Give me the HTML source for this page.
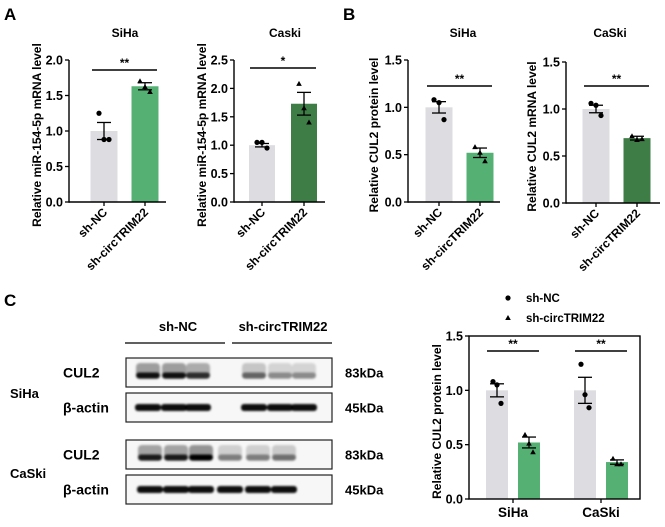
<!DOCTYPE html>
<html><head><meta charset="utf-8"><style>
body{margin:0;background:#fff}
svg{display:block;font-family:"Liberation Sans",sans-serif;font-weight:bold}
</style></head><body>
<svg id="fig" width="665" height="527" viewBox="0 0 665 527">
<defs><filter id="blur" x="-20%" y="-50%" width="140%" height="200%"><feGaussianBlur stdDeviation="1.1"/></filter></defs>
<text x="4" y="20" font-size="17">A</text>
<text x="343" y="20" font-size="17">B</text>
<text x="4" y="306" font-size="17">C</text>
<g id="blot">
<text x="178" y="331" font-size="13" text-anchor="middle">sh-NC</text>
<text x="283" y="331" font-size="13" text-anchor="middle">sh-circTRIM22</text>
<line x1="125" y1="343" x2="225" y2="343" stroke="#000" stroke-width="1.3"/>
<line x1="232" y1="343" x2="332" y2="343" stroke="#000" stroke-width="1.3"/>
<text x="10" y="398" font-size="13">SiHa</text>
<text x="10" y="478" font-size="13">CaSki</text>
</g>
</svg>
<script>
const NS="http://www.w3.org/2000/svg";
const svg=document.getElementById('fig');
function el(tag,attrs,parent){const e=document.createElementNS(NS,tag);for(const k in attrs)e.setAttribute(k,attrs[k]);(parent||svg).appendChild(e);return e;}

const groups=["sh-NC","sh-circTRIM22"];
const aSihaMeans=[1.0,1.63], aSihaSem=[0.12,0.05];
const aSihaPts=[[1.25,0.88,0.88],[1.7,1.62,1.55]];
const aCaskiMeans=[1.0,1.73], aCaskiSem=[0.03,0.2];
const aCaskiPts=[[1.05,1.05,0.95],[2.08,1.65,1.4]];
const bSihaMeans=[1.0,0.52], bSihaSem=[0.06,0.05];
const bSihaPts=[[1.08,1.05,0.87],[0.58,0.52,0.43]];
const bCaskiMeans=[1.0,0.69], bCaskiSem=[0.04,0.02];
const bCaskiPts=[[1.06,1.04,0.93],[0.71,0.67,0.68]];
const cCells=["SiHa","CaSki"];
const cNcMeans=[1.0,1.0], cNcSem=[0.06,0.12];
const cKdMeans=[0.52,0.34], cKdSem=[0.05,0.02];
const cNcPts=[[1.08,1.05,0.88],[1.24,0.96,0.84]];
const cKdPts=[[0.59,0.51,0.43],[0.37,0.32,0.32]];
const yTicksA1=[0,0.5,1.0,1.5,2.0], yTicksA2=[0,0.5,1.0,1.5,2.0,2.5], yTicks15=[0,0.5,1.0,1.5];

const GREY="#dcdce1";

function marker(g,x,y,tri){
  if(tri){const m=el('path',{d:`M${x},${y-3}L${x+2.8},${y+2}L${x-2.8},${y+2}Z`,fill:'#000'},g);}
  else{const m=el('circle',{cx:x,cy:y,r:2.6,fill:'#000'},g);}
}
function errbar(g,x,ym,yl,yh){
  el('line',{x1:x,x2:x,y1:yl,y2:yh,stroke:'#000','stroke-width':1.3},g);
  el('line',{x1:x-7,x2:x+7,y1:yl,y2:yl,stroke:'#000','stroke-width':1.3},g);
  el('line',{x1:x-7,x2:x+7,y1:yh,y2:yh,stroke:'#000','stroke-width':1.3},g);
}

function panel(o){
  const g=el('g',{});
  
  
  const y=v=>o.y0-(v/o.ymax)*(o.y0-o.ytop);
  const t=el('text',{x:o.tx,y:37,'font-size':12,'text-anchor':'middle'},g);t.textContent=o.title;
  
  o.means.forEach((m,i)=>{
    const cx=o.cx[i];
    const b=el('rect',{x:cx-o.bw/2,y:y(m),width:o.bw,height:o.y0-y(m),fill:o.colors[i]},g);
    
    o.pts[i].forEach((p,k)=>marker(g,cx+(k-1)*5,y(p),i==1));
    errbar(g,cx,y(m),y(m-o.sem[i]),y(m+o.sem[i]));
  });
  el('line',{x1:o.ax,x2:o.ax,y1:o.ytop,y2:o.y0+0.7,stroke:'#000','stroke-width':1.4},g);
  el('line',{x1:o.ax,x2:o.xend,y1:o.y0,y2:o.y0,stroke:'#000','stroke-width':1.4},g);
  o.ticks.forEach(v=>{
    el('line',{x1:o.ax-4,x2:o.ax,y1:y(v),y2:y(v),stroke:'#000','stroke-width':1.3},g);
    const tl=el('text',{x:o.ax-6,y:y(v)+4.5,'font-size':12.5,'text-anchor':'end'},g);tl.textContent=v.toFixed(1);
    
  });
  groups.forEach((gr,i)=>{
    const cx=o.cx[i];
    el('line',{x1:cx,x2:cx,y1:o.y0,y2:o.y0+4,stroke:'#000','stroke-width':1.3},g);
    const tl=el('text',{x:cx+4,y:o.y0+11,'font-size':12,'text-anchor':'end',transform:`rotate(-45 ${cx+4} ${o.y0+11})`},g);tl.textContent=gr;
    
  });
  const yl=el('text',{x:0,y:0,'font-size':12,'text-anchor':'middle',transform:`translate(${o.lx},${(o.ytop+o.y0)/2+4}) rotate(-90)`},g);yl.textContent=o.ylabel;
  
  el('line',{x1:o.cx[0]-12,x2:o.cx[1]+12,y1:o.sigY,y2:o.sigY,stroke:'#000','stroke-width':1.4},g);
  const s=el('text',{x:(o.cx[0]+o.cx[1])/2,y:o.sigY-3,'font-size':12,'text-anchor':'middle'},g);s.textContent=o.sig;
  
}

panel({name:'chart-a-siha',title:'SiHa',tx:125,ax:69,y0:202,ytop:60,ymax:2.0,xend:166,cx:[104,145],bw:27,means:aSihaMeans,sem:aSihaSem,pts:aSihaPts,colors:[GREY,'#55b074'],ticks:yTicksA1,ylabel:'Relative  miR-154-5p mRNA level',lx:41,sigY:70,sig:'**'});
panel({name:'chart-a-caski',title:'Caski',tx:285,ax:234,y0:202,ytop:60,ymax:2.5,xend:325,cx:[262,304],bw:26,means:aCaskiMeans,sem:aCaskiSem,pts:aCaskiPts,colors:[GREY,'#3e7d45'],ticks:yTicksA2,ylabel:'Relative  miR-154-5p mRNA level',lx:206,sigY:68,sig:'*'});
panel({name:'chart-b-siha',title:'SiHa',tx:463,ax:408,y0:202,ytop:60,ymax:1.5,xend:500,cx:[439,480],bw:27,means:bSihaMeans,sem:bSihaSem,pts:bSihaPts,colors:[GREY,'#55b074'],ticks:yTicks15,ylabel:'Relative  CUL2 protein level',lx:378,sigY:86,sig:'**'});
panel({name:'chart-b-caski',title:'CaSki',tx:610,ax:566,y0:203,ytop:62,ymax:1.5,xend:660,cx:[596,637],bw:27,means:bCaskiMeans,sem:bCaskiSem,pts:bCaskiPts,colors:[GREY,'#3e7d45'],ticks:yTicks15,ylabel:'Relative  CUL2 mRNA level',lx:536,sigY:86,sig:'**'});

(function(){
  const g=el('g',{});
  
  
  const y0=499,ytop=336,ymax=1.5,ax=469,ar=640;
  const y=v=>y0-(v/ymax)*(y0-ytop);
  const cxs=[[497,529],[585,617]], bw=22;
  const jit=[[0,0,0],[0,0,0]];
  cCells.forEach((c,i)=>{
    [[cNcMeans,cNcSem,cNcPts,GREY],[cKdMeans,cKdSem,cKdPts,'#55b074']].forEach((s,j)=>{
      const cx=cxs[i][j],m=s[0][i];
      const b=el('rect',{x:cx-bw/2,y:y(m),width:bw,height:y0-y(m),fill:s[3]},g);
      
      s[2][i].forEach((p,k)=>marker(g,cx+(k-1)*4,y(p),j==1));
      errbar(g,cx,y(m),y(m-s[1][i]),y(m+s[1][i]));
    });
    const tc=(cxs[i][0]+cxs[i][1])/2;
    el('line',{x1:tc,x2:tc,y1:y0,y2:y0+4,stroke:'#000','stroke-width':1.3},g);
    const tl=el('text',{x:tc,y:y0+18,'font-size':13.5,'text-anchor':'middle'},g);tl.textContent=c;
    
    el('line',{x1:cxs[i][0]-10,x2:cxs[i][1]+10,y1:351,y2:351,stroke:'#000','stroke-width':1.4},g);
    const s=el('text',{x:tc,y:348,'font-size':12,'text-anchor':'middle'},g);s.textContent='**';
    
  });
  el('rect',{x:ax,y:ytop,width:ar-ax,height:y0-ytop,fill:'none',stroke:'#000','stroke-width':1.4},g);
  yTicks15.forEach(v=>{
    el('line',{x1:ax-4,x2:ax,y1:y(v),y2:y(v),stroke:'#000','stroke-width':1.3},g);
    const tl=el('text',{x:ax-6,y:y(v)+4.5,'font-size':12.5,'text-anchor':'end'},g);tl.textContent=v.toFixed(1);
    
  });
  const yl=el('text',{x:0,y:0,'font-size':12,'text-anchor':'middle',transform:`translate(441,${(ytop+y0)/2+4}) rotate(-90)`},g);yl.textContent='Relative  CUL2 protein level';
  
  const lg=el('g',{},g);
  
  marker(lg,508,298,false);marker(lg,508,318,true);
  groups.forEach((gr,i)=>{const t=el('text',{x:526,y:302+i*20,'font-size':11.5},lg);t.textContent=gr;
    });
})();

(function(){
  const g=document.getElementById('blot');
  const boxes=[358,393,440,475], bh=29;
  const rowLabels=['CUL2','β-actin','CUL2','β-actin'];
  const kda=['83kDa','45kDa','83kDa','45kDa'];
  const lanes=[148,174,198,254,280,304];
  const cul2Siha=[0.9,0.9,0.75,0.5,0.35,0.35];
  const cul2Caski=[0.85,0.85,1.0,0.4,0.4,0.45];
  const actin=[0.95,0.95,0.95,0.95,0.95,0.95];
  const actin2=[0.95,0.95,0.95,0.95,0.95,0.95];
  const rows=[cul2Siha,actin,cul2Caski,actin2];
  boxes.forEach((by,r)=>{
    const b=el('rect',{x:126,y:by,width:206,height:bh,fill:'#f7f7f7',stroke:'#222','stroke-width':1.2},g);
    
    const t=el('text',{x:63,y:by+bh/2+5,'font-size':14},g);t.textContent=rowLabels[r];
    
    const k=el('text',{x:345,y:by+bh/2+5,'font-size':13},g);k.textContent=kda[r];
    
    const bg=el('g',{filter:'url(#blur)'},g);
    rows[r].forEach((v,i)=>{
      let lx=lanes[i]; if(r>=2){lx=[150,176,201,230,258,284][i];}
      if(r%2==0){
        el('rect',{x:lx-12,y:by+5,width:24,height:16,fill:'#000',opacity:v*0.4,rx:4},bg);
        el('rect',{x:lx-12,y:by+bh/2,width:24,height:6,fill:'#000',opacity:v,rx:3},bg);
      } else {
        el('rect',{x:lx-13,y:by+bh/2-3.5,width:26,height:7,fill:'#000',opacity:v,rx:3},bg);
      }
    });
  });
})();
</script>
</body></html>
